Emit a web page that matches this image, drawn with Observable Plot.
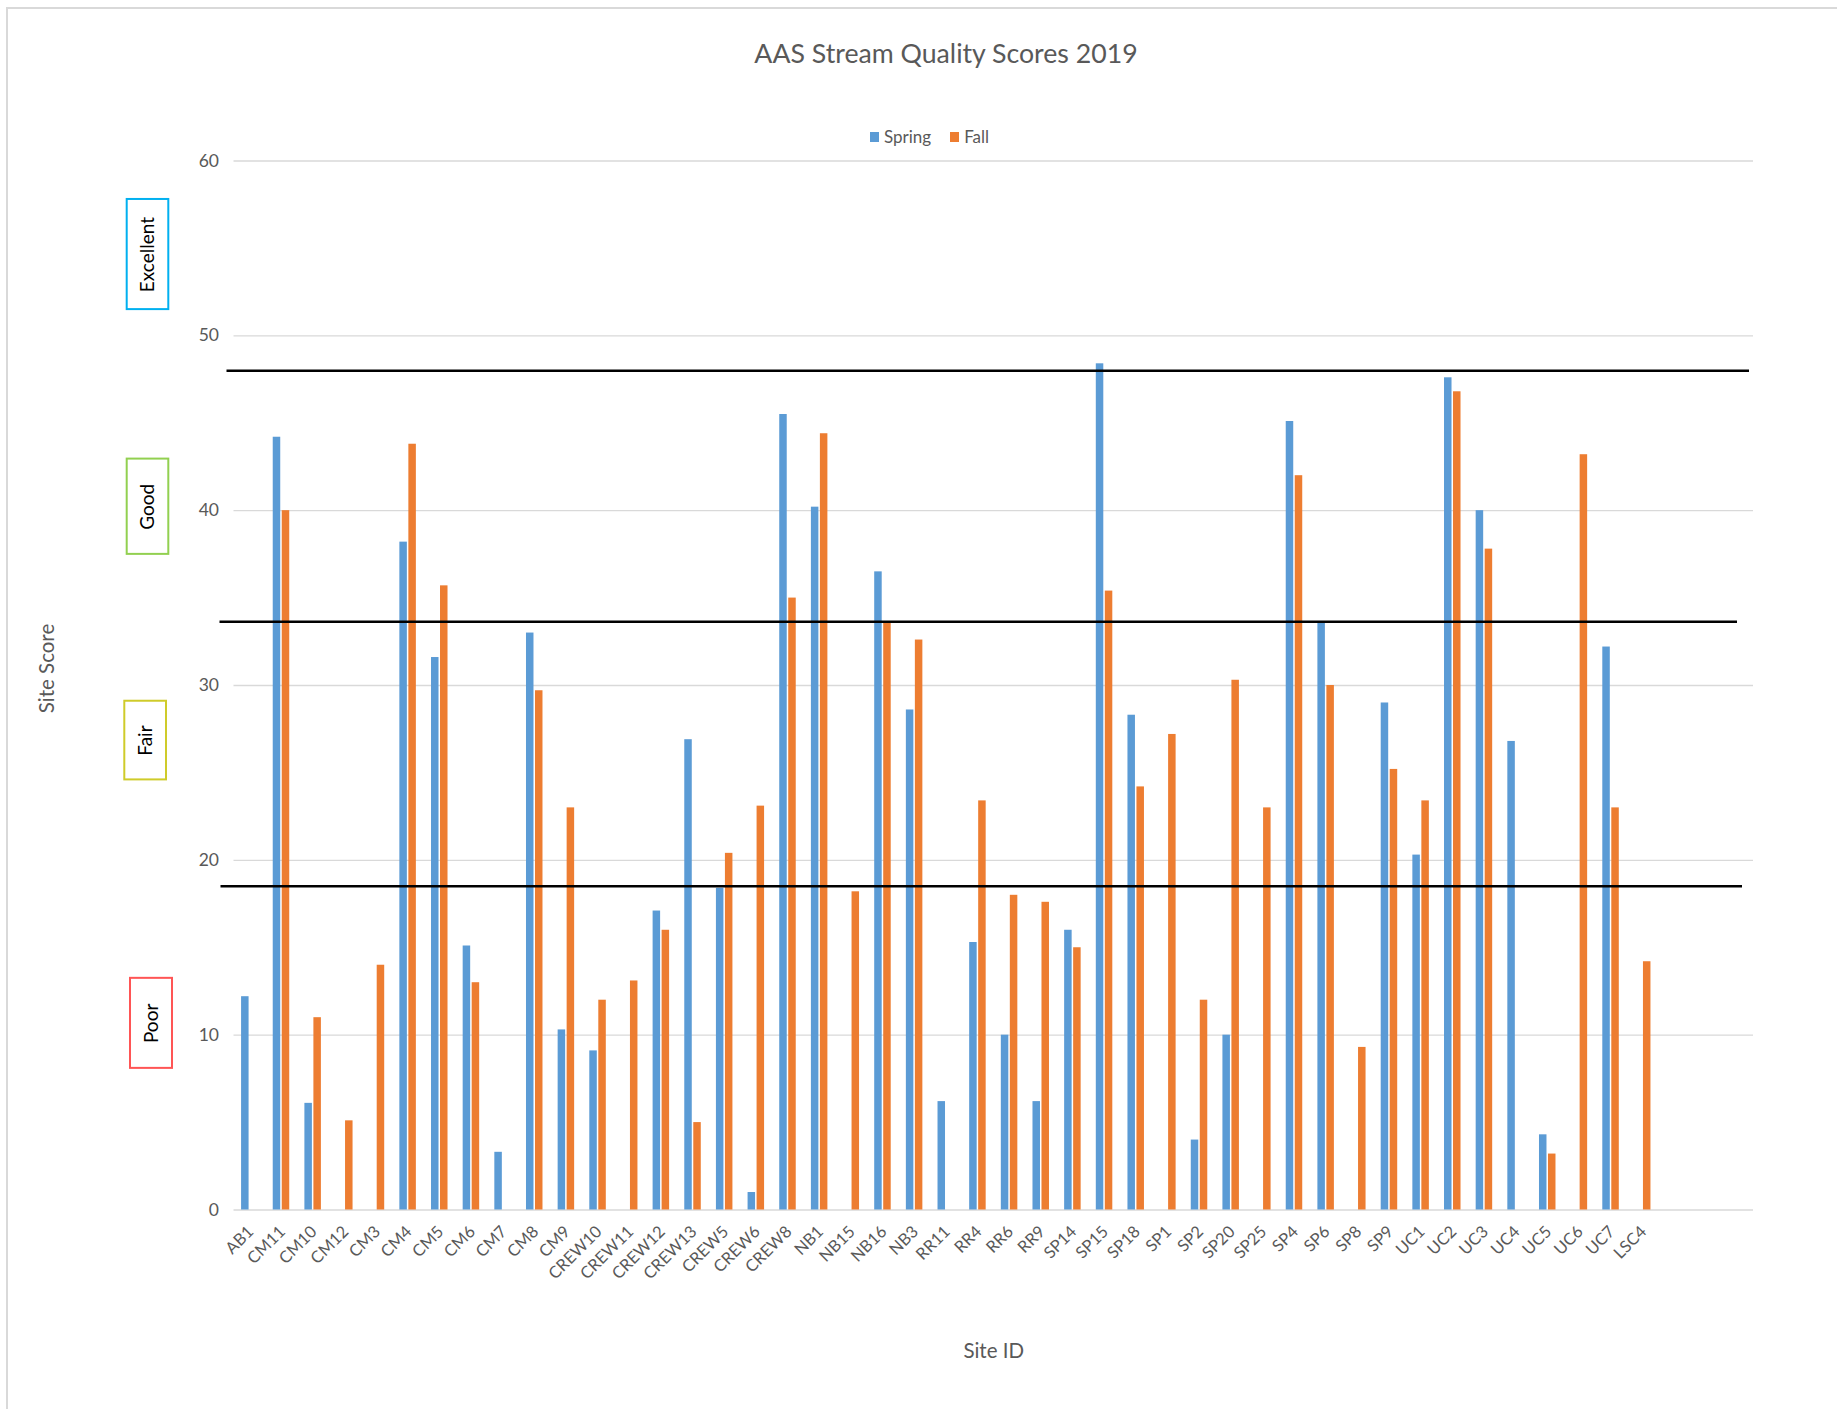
<!DOCTYPE html>
<html>
<head>
<meta charset="utf-8">
<script src="https://cdn.jsdelivr.net/npm/d3@7"></script>
<script src="https://cdn.jsdelivr.net/npm/@observablehq/plot@0.6"></script>
<style>
  html, body { margin: 0; padding: 0; background: #fff; width: 1837px; height: 1409px; overflow: hidden; }
  #frame { position: absolute; left: 6px; top: 7px; width: 1900px; height: 1500px; border-top: 2px solid #D9D9D9; border-left: 2px solid #D9D9D9; box-sizing: border-box; }
  #title { position: absolute; left: 0; width: 1892px; top: 37px; text-align: center; font-family: Lato, sans-serif; font-size: 26.7px; color: #595959; }
  #legend { position: absolute; top: 126px; left: 870px; font-family: Lato, sans-serif; font-size: 17px; color: #595959; display: flex; align-items: center; white-space: nowrap; }
  #legend .sw { display: inline-block; width: 9px; height: 10px; margin-right: 5px; }
  #legend .item { display: flex; align-items: center; margin-right: 19px; }
  #chart { position: absolute; left: 0; top: 150px; }
</style>
</head>
<body>
<div id="frame"></div>
<div id="title"></div>
<div id="legend"></div>
<div id="chart"></div>
<script>
// ---- data ----
const title = "AAS Stream Quality Scores 2019";
const seriesNames = ["Spring", "Fall"];
const sites = ["AB1","CM11","CM10","CM12","CM3","CM4","CM5","CM6","CM7","CM8","CM9","CREW10","CREW11","CREW12","CREW13","CREW5","CREW6","CREW8","NB1","NB15","NB16","NB3","RR11","RR4","RR6","RR9","SP14","SP15","SP18","SP1","SP2","SP20","SP25","SP4","SP6","SP8","SP9","UC1","UC2","UC3","UC4","UC5","UC6","UC7","LSC4"];
const emptySlots = ["~1", "~2", "~3"]; // empty category slots at the right end of the axis
const spring = [12.2,44.2,6.1,null,null,38.2,31.6,15.1,3.3,33.0,10.3,9.1,null,17.1,26.9,18.4,1.0,45.5,40.2,null,36.5,28.6,6.2,15.3,10.0,6.2,16.0,48.4,28.3,null,4.0,10.0,null,45.1,33.6,null,29.0,20.3,47.6,40.0,26.8,4.3,null,32.2,null];
const fall   = [null,40.0,11.0,5.1,14.0,43.8,35.7,13.0,null,29.7,23.0,12.0,13.1,16.0,5.0,20.4,23.1,35.0,44.4,18.2,33.6,32.6,null,23.4,18.0,17.6,15.0,35.4,24.2,27.2,12.0,30.3,23.0,42.0,30.0,9.3,25.2,23.4,46.8,37.8,null,3.2,43.2,23.0,14.2];
const yTicks = [0, 10, 20, 30, 40, 50, 60];
const thresholds = [48.0, 33.65, 18.52];
const levelNames = ["Excellent", "Good", "Fair", "Poor"];
const levelLow  = [51.5, 37.5, 24.6, 8.1];
const levelHigh = [57.8, 42.95, 29.1, 13.25];
const yLabel = "Site Score";
const xLabel = "Site ID";

// ---- styles ----
const colors = {Spring: "#5B9BD5", Fall: "#ED7D31"};
const levelStyle = [
  {stroke: "#00B0F0", left: 126.7, right: 168.3},
  {stroke: "#92D050", left: 126.7, right: 168.3},
  {stroke: "#CFCB2A", left: 124.3, right: 166.0},
  {stroke: "#FF5555", left: 130.0, right: 172.0}
];
const thresholdStyle = [
  {insetLeft: -7, insetRight: 4},
  {insetLeft: -14, insetRight: 16},
  {insetLeft: -13, insetRight: 11}
];

const W = 1837, H = 1259;
const mL = 233.5, mR = 84, mT = 10.5, mB = 199.5;
const frameW = W - mL - mR;
const step = frameW / (sites.length + emptySlots.length);
const half = step / 2;
const barW = 7.5, gap = 0.75;

const springData = sites.map((s, i) => ({site: s, value: spring[i]})).filter(d => d.value != null);
const fallData = sites.map((s, i) => ({site: s, value: fall[i]})).filter(d => d.value != null);
const levels = levelNames.map((n, i) => ({name: n, lo: levelLow[i], hi: levelHigh[i], mid: (levelLow[i] + levelHigh[i]) / 2}));

document.getElementById("title").textContent = title;
const legend = document.getElementById("legend");
seriesNames.forEach(n => {
  const it = document.createElement("span"); it.className = "item";
  const sw = document.createElement("span"); sw.className = "sw"; sw.style.background = colors[n];
  it.appendChild(sw); it.appendChild(document.createTextNode(n));
  legend.appendChild(it);
});

const chart = Plot.plot({
  width: W, height: H,
  marginTop: mT, marginBottom: mB, marginLeft: mL, marginRight: mR,
  style: {fontFamily: "Lato, sans-serif", fontSize: "17.5px", color: "#595959", background: "transparent", overflow: "visible"},
  x: {domain: [...sites, ...emptySlots], padding: 0, round: false, axis: null},
  y: {domain: [0, 60], ticks: yTicks, tickSize: 0, tickPadding: 15, label: null, tickFormat: d => String(d)},
  marks: [
    Plot.ruleY(yTicks, {stroke: "#D9D9D9", strokeWidth: 1.3}),
    Plot.barY(springData, {x: "site", y: "value", fill: colors.Spring, insetLeft: half - barW - gap, insetRight: half + gap}),
    Plot.barY(fallData, {x: "site", y: "value", fill: colors.Fall, insetLeft: half + gap, insetRight: half - barW - gap}),
    ...thresholds.map((t, i) => Plot.ruleY([t], {stroke: "#000", strokeWidth: 2.4, insetLeft: thresholdStyle[i].insetLeft, insetRight: thresholdStyle[i].insetRight})),
    ...levels.map((d, i) => Plot.rect([d], {y1: "lo", y2: "hi", fill: "white", stroke: levelStyle[i].stroke, strokeWidth: 2,
      insetLeft: -(mL - levelStyle[i].left), insetRight: frameW + (mL - levelStyle[i].right)})),
    ...levels.map((d, i) => Plot.text([d], {y: "mid", text: "name", frameAnchor: "left", textAnchor: "middle", rotate: -90,
      dx: (levelStyle[i].left + levelStyle[i].right) / 2 - mL, fill: "#000", fontSize: 19})),
    Plot.text(sites, {x: d => d, text: d => d, frameAnchor: "bottom", rotate: -45, textAnchor: "end", lineAnchor: "middle", dy: 19, dx: 1, fill: "#595959", fontSize: 16.5}),
    Plot.text([yLabel], {text: d => d, frameAnchor: "left", textAnchor: "middle", rotate: -90, dx: 47 - mL, dy: -17, fill: "#595959", fontSize: 20.5}),
    Plot.text([xLabel], {text: d => d, frameAnchor: "bottom", textAnchor: "middle", lineAnchor: "middle", dy: 141.5, fill: "#595959", fontSize: 20.5})
  ]
});
document.getElementById("chart").appendChild(chart);
</script>
</body>
</html>
